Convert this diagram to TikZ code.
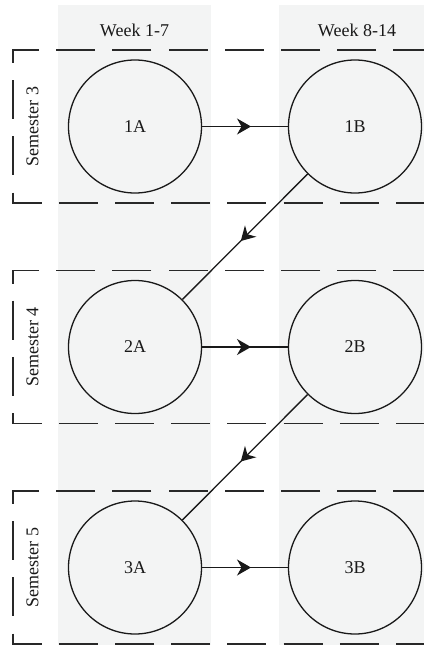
\documentclass[tikz,border=0pt]{standalone}
\usepackage{fontspec}
\setmainfont{Liberation Serif}
\usetikzlibrary{arrows.meta,decorations.markings}
\definecolor{colbg}{RGB}{243,244,244}
\definecolor{ink}{RGB}{25,25,25}
\definecolor{framecol}{RGB}{40,40,40}
\begin{document}
\begin{tikzpicture}[x=1pt,y=-1pt,
  course/.style={circle,draw=ink,line width=1.3pt,minimum size=133pt,inner sep=0pt,
    text=ink,font=\fontsize{18}{20}\selectfont},
  label text/.style={text=ink,inner sep=0pt,font=\fontsize{18}{20}\selectfont},
  frame/.style={draw=framecol,line width=1.6pt,dash pattern=on 39pt off 17.2pt},
  flow/.style={draw=ink,line width=1.3pt,postaction={decorate},
    decoration={markings,mark=at position 0.5 with
      {\pgftransformxshift{6pt}\arrow{Stealth[length=14pt,width=16pt,inset=4.5pt]}}}}
]
\useasboundingbox (0,0) rectangle (423,645);

% week columns
\fill[colbg] (58,5) rectangle (211,650);
\fill[colbg] (279,5) rectangle (440,650);

% semester frames (open to the right)
\foreach \yt in {50,270.5,491}{
  \draw[frame] (488.6,\yt) -- (13,\yt) -- (13,\yt+153) -- (500,\yt+153);
}

% headers
\node[label text] (w1) at (134.5,30) {Week 1-7};
\node[label text] (w2) at (357,30) {Week 8-14};

% semester labels
\node[label text,rotate=90] (s3) at (32.5,126.5) {Semester 3};
\node[label text,rotate=90] (s4) at (32.5,347) {Semester 4};
\node[label text,rotate=90] (s5) at (32.5,567.5) {Semester 5};

% courses
\node[course] (1A) at (135,126.5) {1A};
\node[course] (1B) at (355,126.5) {1B};
\node[course] (2A) at (135,347) {2A};
\node[course] (2B) at (355,347) {2B};
\node[course] (3A) at (135,567.5) {3A};
\node[course] (3B) at (355,567.5) {3B};

% sequence
\draw[flow] (1A) -- (1B);
\draw[flow] (1B) -- (2A);
\draw[flow] (2A) -- (2B);
\draw[flow] (2B) -- (3A);
\draw[flow] (3A) -- (3B);
\end{tikzpicture}
\end{document}
